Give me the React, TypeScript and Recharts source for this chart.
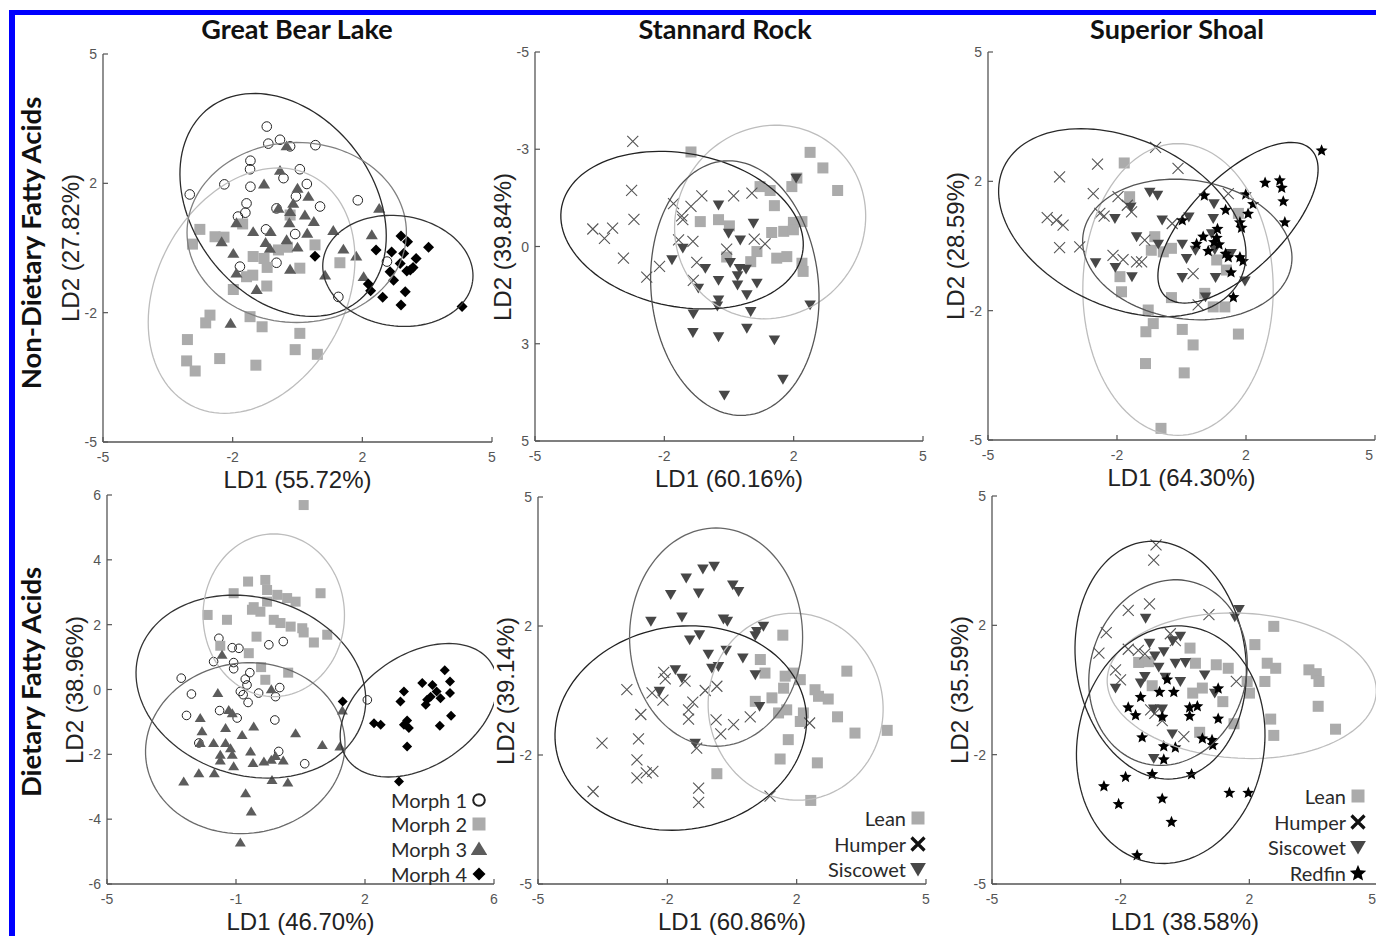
import React from 'react';
import { ScatterChart, Scatter, XAxis, YAxis } from 'recharts';

// ---- tick values (labels are rounded the MATLAB way) ----
const ticksTen = [-5, -5 / 3, 5 / 3, 5];
const ticksSrNdY = [-5, -2.5, 0, 2.5, 5];
const ticksGblDX = [-5, -4 / 3, 7 / 3, 6];
const ticksGblDY = [-6, -4, -2, 0, 2, 4, 6];

// ---- Great Bear Lake, non-dietary ----
const gblNdMorph1 = [[-0.79,3.13],[-0.75,2.69],[-0.45,2.79],[-0.19,2.62],[0.46,2.65],[-1.21,2.25],[-1.22,2.03],[0.06,2.03],[-1.88,1.64],[-2.77,1.38],[-1.21,1.58],[0.24,1.65],[-0.36,1.8],[-0.04,1.33],[-1.31,1.15],[1.55,1.23],[0.58,1.07],[-1.34,0.91],[-1.53,0.81],[-0.54,1.02],[-0.81,0.48],[-0.06,0.36],[-0.54,-0.38],[-1.48,-0.48],[1.05,-1.26],[2.3,-0.35]];
const gblNdMorph2 = [[-2.51,0.48],[-2.7,0.1],[-2.12,0.29],[-1.89,0.28],[-1.41,0.62],[-1.14,-0.22],[-0.86,-0.27],[-0.78,-0.5],[-0.49,-0.05],[-0.26,0.02],[0.06,-0.52],[0.45,0.08],[1.09,-0.38],[-1.31,-0.74],[-1.15,-0.7],[-0.79,-0.98],[-1.65,-1.07],[-2.25,-1.73],[-2.36,-1.93],[-1.22,-1.77],[-0.91,-2.03],[0.06,-2.2],[-0.06,-2.62],[0.51,-2.74],[-2.83,-2.36],[-2.85,-2.91],[-2.0,-2.85],[-2.63,-3.17],[-1.07,-3.02],[-0.19,0.85]];
const gblNdMorph3 = [[-0.28,2.63],[-0.45,2.0],[-0.86,1.65],[0.0,1.54],[0.28,1.33],[-0.11,1.15],[-0.19,0.94],[0.19,0.85],[0.42,0.68],[-0.21,0.65],[-1.57,0.65],[-1.14,0.42],[-0.69,0.42],[-0.28,0.21],[0.25,0.38],[0.92,0.45],[1.91,0.34],[2.1,1.02],[-1.95,0.16],[-0.82,0.14],[-1.65,-0.14],[-0.71,-0.01],[0.0,0.02],[1.18,-0.03],[1.51,-0.21],[-0.19,-0.55],[-1.57,-0.65],[0.71,-0.7],[1.7,-0.74],[-1.05,-1.07],[-1.72,-1.94],[-0.49,1.02]];
const gblNdMorph4 = [[0.45,-0.21],[2.02,-0.05],[2.42,-0.1],[2.66,0.31],[2.83,0.16],[3.37,0.02],[2.73,-0.14],[3.05,-0.27],[2.97,-0.5],[2.81,-0.59],[2.64,-0.4],[2.38,-0.61],[2.47,-0.83],[1.82,-0.93],[1.88,-1.1],[2.19,-1.27],[2.77,-1.13],[2.66,-1.47],[4.23,-1.51],[2.9,-0.57]];
// ellipse: centre x, centre y, semi-axis a, semi-axis b, angle (deg, data space)
const gblNdEllipses = [[-0.37,1.11,3.14,2.33,-53],[-1.18,-1.1,3.34,2.43,62],[-0.02,0.4,2.82,2.32,0],[2.58,-0.59,1.94,1.42,-8]];

// ---- Stannard Rock, non-dietary (y axis reversed) ----
const srNdLean = [[-0.98,-2.43],[2.09,-2.42],[2.42,-2.02],[2.8,-1.44],[1.75,-1.76],[1.62,-1.54],[0.8,-1.54],[1.06,-1.44],[1.17,-1.05],[-0.74,-0.64],[-0.27,-0.69],[0.01,-0.53],[1.66,-0.62],[1.88,-0.64],[1.1,-0.36],[1.41,-0.39],[1.66,-0.43],[0.72,0.13],[-0.06,0.27],[0.56,0.39],[1.23,0.3],[1.49,0.26],[1.88,0.43],[1.91,0.64]];
const srNdHumper = [[-2.48,-2.7],[-2.51,-1.44],[-2.45,-0.7],[-3.51,-0.45],[-3.21,-0.21],[-3.0,-0.47],[-2.72,0.3],[-2.12,0.79],[-1.79,0.51],[-1.43,-1.1],[-1.22,-0.79],[-1.19,-0.69],[-0.98,-1.03],[-0.7,-1.3],[0.12,-1.3],[0.59,-1.37],[-1.3,-0.17],[-0.93,-0.13],[-0.83,0.41],[-0.92,0.87],[0.93,-0.07],[-0.06,0.07],[0.65,-0.19]];
const srNdSiscowet = [[1.73,-1.76],[-0.27,-1.07],[0.63,-0.6],[-0.01,-0.34],[0.29,-0.17],[-1.19,0.04],[-1.47,0.34],[-0.61,0.56],[0.03,0.41],[0.27,0.56],[0.44,0.58],[0.22,0.75],[-0.27,0.87],[0.72,0.94],[-0.79,1.07],[0.22,0.99],[0.46,1.24],[-0.27,1.37],[-0.3,1.53],[-0.92,1.73],[0.56,1.67],[-0.93,2.21],[-0.27,2.32],[0.46,2.1],[1.17,2.4],[2.09,1.5],[1.39,3.41],[-0.12,3.82]];
const srNdEllipses = [[1.06,-0.63,2.55,2.4,-50],[-1.21,-0.42,3.16,1.97,11],[0.15,1.07,3.28,2.16,85]];

// ---- Superior Shoal, non-dietary ----
const ssNdLean = [[-1.48,2.14],[-1.34,1.27],[-0.69,0.24],[-0.78,-0.11],[-0.47,-0.15],[-0.26,-0.06],[-1.59,-0.79],[-1.55,-1.18],[-0.86,-1.65],[-0.73,-2.0],[-0.92,-2.21],[0.02,-2.15],[0.3,-2.55],[-0.93,-3.03],[0.07,-3.27],[-0.53,-4.7],[-0.26,-1.33],[0.6,-1.22],[0.82,-1.57],[1.12,-1.57],[1.47,-2.27],[0.91,-0.36],[1.16,-0.62],[1.47,0.84]];
const ssNdHumper = [[-0.67,2.54],[-2.17,2.11],[-0.09,2.0],[-3.15,1.78],[-2.28,1.35],[-1.64,1.27],[-1.4,1.05],[-2.11,0.84],[-2.0,0.77],[-1.29,0.88],[-3.47,0.73],[-3.23,0.67],[-3.06,0.54],[-3.15,-0.04],[-2.63,-0.02],[-1.77,-0.24],[-1.51,-0.35],[-1.16,-0.41],[-0.95,0.15],[-0.24,0.58],[0.3,-0.71],[0.43,-1.52],[1.21,1.35],[-1.03,-0.41]];
const ssNdSiscowet = [[-0.82,1.39],[-0.62,1.31],[-1.72,0.71],[-1.31,1.01],[-0.5,0.67],[0.19,0.75],[0.84,1.09],[0.82,0.71],[-1.16,0.24],[-0.6,0.05],[0.02,0.05],[0.36,-0.11],[0.13,-0.32],[0.86,-0.09],[1.28,-0.19],[-2.22,-0.43],[-1.71,-0.55],[-1.28,-0.79],[0.02,-0.81],[0.88,-0.81],[1.64,-0.9],[0.62,-1.31],[0.78,0.32]];
const ssNdRedfin = [[3.62,2.47],[2.16,1.64],[2.54,1.7],[2.59,1.51],[2.63,1.16],[2.67,0.62],[1.66,1.34],[1.85,1.09],[1.72,0.84],[1.51,0.62],[1.55,0.48],[1.14,0.94],[0.59,1.31],[0.02,0.67],[0.93,0.45],[0.91,0.22],[0.56,0.25],[0.39,0.06],[0.69,-0.12],[0.97,0.05],[1.14,-0.19],[1.21,-0.28],[1.51,-0.28],[1.59,-0.38],[1.28,-0.67],[1.34,-1.31],[0.84,0.11]];
const ssNdEllipses = [[-0.09,-1.12,3.76,2.46,90],[-1.53,0.6,3.38,2.16,-25],[0.15,-0.09,2.72,1.79,-8],[1.46,0.6,2.67,1.2,45]];

// ---- Great Bear Lake, dietary ----
const gblDMorph1 = [[-1.82,1.58],[-1.44,1.29],[-1.25,1.27],[-0.4,1.38],[0.01,1.48],[-1.97,0.86],[-1.4,0.83],[-1.4,0.64],[-0.94,0.52],[-2.89,0.35],[-2.6,-0.14],[-1.21,-0.06],[-1.02,0.14],[-1.13,-0.16],[-0.99,-0.4],[-0.69,-0.11],[-0.09,0.06],[-0.21,-0.22],[-2.74,-0.8],[-1.8,-0.65],[-1.3,-0.88],[-0.23,-0.94],[-0.12,-1.91],[0.62,-2.29],[2.4,-0.32],[-2.39,-1.65],[-1.07,0.32]];
const gblDMorph2 = [[0.59,5.69],[-0.99,3.33],[-0.5,3.38],[-1.4,2.97],[-2.14,2.3],[-1.59,2.15],[-0.88,2.46],[-0.64,2.4],[-0.45,3.07],[-0.16,2.92],[0.12,2.82],[0.36,2.71],[1.07,2.97],[-0.26,2.15],[-0.07,2.05],[0.22,1.94],[0.55,1.89],[0.59,1.76],[0.88,1.45],[1.26,1.69],[-0.75,1.63],[-0.97,1.12],[-0.62,0.69],[-0.5,0.3],[0.15,0.52],[-1.78,1.35],[-0.83,2.54],[-0.45,2.71]];
const gblDMorph3 = [[-1.73,1.07],[-1.85,-0.11],[-0.33,0.01],[-1.54,-0.63],[-1.44,-0.73],[-2.35,-0.88],[-2.3,-1.29],[-2.35,-1.65],[-1.97,-1.65],[-1.63,-1.19],[-1.16,-1.4],[-0.83,-1.14],[0.36,-1.35],[-1.63,-1.65],[-1.49,-1.81],[-1.78,-2.01],[-1.44,-2.01],[-1.78,-2.19],[-1.4,-2.37],[-0.92,-1.91],[-0.85,-2.27],[-0.54,-2.22],[-0.33,-2.17],[-0.21,-2.05],[0.01,-2.19],[-0.31,-2.79],[0.14,-2.87],[-2.39,-2.58],[-1.95,-2.58],[-2.82,-2.84],[-1.06,-3.2],[-0.9,-3.76],[-1.21,-4.72],[1.12,-1.71],[1.62,-1.76],[1.69,-0.65]];
const gblDMorph4 = [[1.7,-0.37],[2.59,-1.04],[2.78,-1.09],[3.44,-0.06],[3.34,-0.37],[3.96,0.2],[4.25,0.14],[4.06,-0.47],[4.2,-0.22],[4.37,-0.06],[4.6,0.59],[4.75,0.25],[4.75,-0.11],[4.48,-0.27],[4.46,-1.12],[4.78,-0.81],[3.53,-0.96],[3.58,-1.19],[3.44,-1.09],[3.53,-1.76],[3.3,-2.84],[4.1,-0.32]];
const gblDEllipses = [[-0.91,0.09,3.35,2.72,-22.5],[-0.26,2.29,2.51,2.01,90],[-1.07,-1.81,2.85,2.62,15],[3.86,-0.64,2.53,1.68,39]];

// ---- Stannard Rock, dietary ----
const srDLean = [[1.31,1.43],[0.73,0.8],[0.85,0.45],[2.96,0.5],[1.37,0.37],[1.58,0.45],[1.76,0.28],[1.33,0.06],[2.14,0.02],[2.23,-0.15],[2.48,-0.22],[1.03,-0.19],[0.6,-0.28],[1.2,-0.58],[1.41,-0.5],[1.84,-0.58],[1.76,-0.8],[2.72,-0.68],[3.17,-1.1],[4.0,-1.03],[1.45,-1.27],[1.24,-1.77],[2.2,-1.87],[-0.39,-2.15],[2.03,-2.84]];
const srDHumper = [[-1.76,0.47],[-1.72,0.3],[-1.21,0.24],[-2.71,0.02],[-2.06,-0.06],[-1.78,-0.25],[-1.01,-0.3],[-1.12,-0.5],[-2.35,-0.62],[-1.12,-0.74],[-0.41,-0.76],[0.04,-0.88],[0.47,-0.68],[-0.69,0.0],[-0.39,0.11],[-0.29,-1.12],[-3.35,-1.36],[-2.41,-1.25],[-2.45,-1.79],[-2.21,-2.13],[-2.04,-2.09],[-2.45,-2.26],[-0.91,-1.49],[-3.58,-2.61],[-0.86,-2.52],[-0.86,-2.89],[0.98,-2.73],[2.0,-0.84]];
const srDSiscowet = [[-0.46,3.21],[-0.75,3.14],[-1.18,2.91],[-1.58,2.48],[-0.86,2.52],[0.02,2.73],[0.17,2.56],[-2.09,1.79],[-1.29,1.9],[-0.22,1.85],[-0.12,1.79],[-1.09,1.31],[-0.84,1.44],[-0.61,0.94],[-0.15,1.04],[0.28,0.84],[0.64,1.53],[0.81,1.66],[0.6,1.42],[-1.46,0.54],[-1.29,0.32],[-0.52,0.58],[-0.35,0.62],[0.6,0.41],[-1.87,-0.02],[0.71,-0.41],[-0.95,-1.36]];
const srDEllipses = [[1.64,-0.42,2.42,2.25,100],[-1.32,-0.97,3.26,2.62,10],[-0.41,1.38,2.82,2.23,90]];

// ---- Superior Shoal, dietary ----
const ssDLean = [[2.3,1.64],[1.81,1.17],[0.13,1.08],[-1.2,0.71],[-0.94,0.73],[0.27,0.69],[0.81,0.65],[1.12,0.56],[2.13,0.69],[2.35,0.56],[3.21,0.52],[3.4,0.42],[3.47,0.22],[1.61,0.22],[2.07,0.22],[1.67,-0.08],[0.2,-0.08],[0.45,0.05],[0.98,-0.3],[-0.85,0.11],[3.45,-0.42],[2.22,-0.75],[3.9,-1.01],[1.27,-0.87],[2.3,-1.17],[0.38,-1.09]];
const ssDHumper = [[-0.75,3.74],[-0.81,3.35],[-0.92,2.22],[-1.47,2.05],[0.62,1.94],[-2.04,1.48],[-2.23,0.95],[-1.47,1.05],[-1.21,1.02],[-1.04,0.93],[-1.8,0.52],[-1.67,0.26],[-0.38,1.45],[-0.25,1.27],[1.33,0.22],[-0.89,-0.51],[-0.78,-0.6],[-0.59,-0.79],[-0.03,-1.2]];
const ssDSiscowet = [[-1.02,1.85],[1.4,2.08],[1.29,1.89],[-0.12,1.39],[-0.32,1.27],[-0.92,1.21],[-0.55,0.99],[-0.78,0.88],[-0.68,0.59],[-0.25,0.69],[0.01,0.71],[-1.04,0.35],[-1.8,0.05],[-1.15,0.18],[-0.12,0.22],[0.51,0.39],[0.77,-0.08],[-0.81,-0.49],[-0.59,-0.49],[-0.33,-1.13],[-0.81,-1.76],[-0.51,0.33]];
const ssDRedfin = [[-0.46,0.28],[-1.15,-0.17],[-0.66,-0.04],[-0.29,-0.04],[0.86,0.05],[-1.47,-0.44],[-1.28,-0.64],[-0.59,-0.68],[0.12,-0.44],[0.32,-0.41],[0.12,-0.66],[0.86,-0.73],[-1.11,-1.21],[-0.55,-1.44],[-0.25,-1.47],[0.45,-1.24],[0.7,-1.28],[0.72,-1.41],[-0.55,-1.78],[-0.85,-2.16],[0.17,-2.16],[-1.54,-2.23],[-2.1,-2.47],[-1.72,-2.93],[-0.59,-2.79],[-0.35,-3.39],[-1.24,-4.25],[1.15,-2.64],[1.64,-2.64]];
const ssDEllipses = [[1.47,0.11,3.49,1.87,-3],[-0.63,0.77,3.08,2.2,98],[-0.44,0.45,2.42,2.02,74],[-0.37,-1.41,3.08,2.42,80]];

const AXIS = '#555';
const SANS = '"Liberation Sans", Arial, sans-serif';
const CALI = 'Lato, "Open Sans", sans-serif';

type Marker = 'circle' | 'square' | 'tri' | 'triDown' | 'diamond' | 'cross' | 'star';

const pts = (rows: number[][]) => rows.map(([x, y]) => ({ x, y }));

// outline of a group ellipse from its centre / semi-axes / angle
const ellipseOutline = ([cx, cy, a, b, deg]: number[]) => {
  const t = (deg * Math.PI) / 180;
  const out = [];
  for (let i = 0; i <= 120; i++) {
    const s = (i / 120) * 2 * Math.PI;
    const u = a * Math.cos(s);
    const v = b * Math.sin(s);
    out.push({ x: cx + u * Math.cos(t) - v * Math.sin(t), y: cy + u * Math.sin(t) + v * Math.cos(t) });
  }
  return out;
};

const matlabRound = (v: number) => String(Math.sign(v) * Math.round(Math.abs(v)) || 0);

function starPath(cx: number, cy: number, R: number) {
  const r = R * 0.45;
  let d = '';
  for (let i = 0; i < 10; i++) {
    const rad = i % 2 === 0 ? R : r;
    const ang = -Math.PI / 2 + (i * Math.PI) / 5;
    d += (i === 0 ? 'M' : 'L') + (cx + rad * Math.cos(ang)).toFixed(2) + ',' + (cy + rad * Math.sin(ang)).toFixed(2);
  }
  return d + 'Z';
}

function drawMarker(kind: Marker, cx: number, cy: number, s: number, legend = false) {
  const h = s / 2;
  switch (kind) {
    case 'circle':
      return <circle cx={cx} cy={cy} r={h - 0.7} fill="none" stroke="#222" strokeWidth={legend ? 2 : 1} />;
    case 'square':
      return <rect x={cx - h} y={cy - h} width={s} height={s} fill="#ababab" />;
    case 'tri':
      return <path d={`M${cx},${cy - h}L${cx + h * 1.1},${cy + h * 0.8}L${cx - h * 1.1},${cy + h * 0.8}Z`} fill="#5c5c5c" />;
    case 'triDown':
      return <path d={`M${cx - h * 1.05},${cy - h * 0.8}L${cx + h * 1.05},${cy - h * 0.8}L${cx},${cy + h}Z`} fill="#474747" />;
    case 'diamond':
      return <path d={`M${cx},${cy - h}L${cx + h},${cy}L${cx},${cy + h}L${cx - h},${cy}Z`} fill="#000" />;
    case 'cross':
      return (
        <path
          d={`M${cx - h},${cy - h}L${cx + h},${cy + h}M${cx - h},${cy + h}L${cx + h},${cy - h}`}
          stroke={legend ? '#111' : '#555'}
          strokeWidth={legend ? 3.2 : 1.1}
          fill="none"
        />
      );
    case 'star':
      return <path d={starPath(cx, cy + 0.5, h * 1.15)} fill="#000" />;
  }
  return <g />;
}

const shapeFor = (kind: Marker, s: number) => (props: any) => drawMarker(kind, props.cx, props.cy, s);
const noDot = () => <g />;

function XTick(props: any) {
  const { x, y, payload, lastAtEdge, index, visibleTicksCount } = props;
  const atEdge = lastAtEdge && index === visibleTicksCount - 1;
  return (
    <g>
      <line x1={x} y1={y} x2={x} y2={y - 5} stroke={AXIS} strokeWidth={1.2} />
      <text x={atEdge ? x - 2 : x} y={y + 20} textAnchor={atEdge ? 'end' : 'middle'} fontSize={14} fill="#555" fontFamily={SANS}>
        {matlabRound(payload.value)}
      </text>
    </g>
  );
}

function YTick(props: any) {
  const { x, y, payload } = props;
  return (
    <g>
      <line x1={x} y1={y} x2={x + 5} y2={y} stroke={AXIS} strokeWidth={1.2} />
      <text x={x - 6} y={y + 5} textAnchor="end" fontSize={14} fill="#555" fontFamily={SANS}>
        {matlabRound(payload.value)}
      </text>
    </g>
  );
}

interface Group {
  name: string;
  data: { x: number; y: number }[];
  marker: Marker;
  ellipse: number[];
  ring: string;
}

interface PanelDef {
  id: string;
  plot: [number, number, number, number];
  xDomain: [number, number];
  yDomain: [number, number];
  xTicks: number[];
  yTicks: number[];
  reversed?: boolean;
  xLabel: string;
  yLabel: string;
  size: number;
  groups: Group[];
  legend?: { right: number; rows: number[] };
}

const panels: PanelDef[] = [
  {
    id: 'gbl-nd', plot: [103, 54, 389, 388], xDomain: [-5, 5], yDomain: [-5, 5], xTicks: ticksTen, yTicks: ticksTen,
    xLabel: 'LD1 (55.72%)', yLabel: 'LD2 (27.82%)', size: 11,
    groups: [
      { name: 'Morph 1', data: pts(gblNdMorph1), marker: 'circle', ellipse: gblNdEllipses[0], ring: '#2a2a2a' },
      { name: 'Morph 2', data: pts(gblNdMorph2), marker: 'square', ellipse: gblNdEllipses[1], ring: '#bdbdbd' },
      { name: 'Morph 3', data: pts(gblNdMorph3), marker: 'tri', ellipse: gblNdEllipses[2], ring: '#808080' },
      { name: 'Morph 4', data: pts(gblNdMorph4), marker: 'diamond', ellipse: gblNdEllipses[3], ring: '#333' },
    ],
  },
  {
    id: 'sr-nd', plot: [535, 52, 388, 389], xDomain: [-5, 5], yDomain: [-5, 5], xTicks: ticksTen, yTicks: ticksSrNdY, reversed: true,
    xLabel: 'LD1 (60.16%)', yLabel: 'LD2 (39.84%)', size: 11,
    groups: [
      { name: 'Lean', data: pts(srNdLean), marker: 'square', ellipse: srNdEllipses[0], ring: '#bdbdbd' },
      { name: 'Humper', data: pts(srNdHumper), marker: 'cross', ellipse: srNdEllipses[1], ring: '#222' },
      { name: 'Siscowet', data: pts(srNdSiscowet), marker: 'triDown', ellipse: srNdEllipses[2], ring: '#555' },
    ],
  },
  {
    id: 'ss-nd', plot: [988, 52, 387, 388], xDomain: [-5, 5], yDomain: [-5, 5], xTicks: ticksTen, yTicks: ticksTen,
    xLabel: 'LD1 (64.30%)', yLabel: 'LD2 (28.59%)', size: 11,
    groups: [
      { name: 'Lean', data: pts(ssNdLean), marker: 'square', ellipse: ssNdEllipses[0], ring: '#bdbdbd' },
      { name: 'Humper', data: pts(ssNdHumper), marker: 'cross', ellipse: ssNdEllipses[1], ring: '#2a2a2a' },
      { name: 'Siscowet', data: pts(ssNdSiscowet), marker: 'triDown', ellipse: ssNdEllipses[2], ring: '#555' },
      { name: 'Redfin', data: pts(ssNdRedfin), marker: 'star', ellipse: ssNdEllipses[3], ring: '#222' },
    ],
  },
  {
    id: 'gbl-d', plot: [107, 495, 387, 389], xDomain: [-5, 6], yDomain: [-6, 6], xTicks: ticksGblDX, yTicks: ticksGblDY,
    xLabel: 'LD1 (46.70%)', yLabel: 'LD2 (38.96%)', size: 10,
    groups: [
      { name: 'Morph 1', data: pts(gblDMorph1), marker: 'circle', ellipse: gblDEllipses[0], ring: '#333' },
      { name: 'Morph 2', data: pts(gblDMorph2), marker: 'square', ellipse: gblDEllipses[1], ring: '#bdbdbd' },
      { name: 'Morph 3', data: pts(gblDMorph3), marker: 'tri', ellipse: gblDEllipses[2], ring: '#6a6a6a' },
      { name: 'Morph 4', data: pts(gblDMorph4), marker: 'diamond', ellipse: gblDEllipses[3], ring: '#333' },
    ],
    legend: { right: 479, rows: [800, 824, 849, 874] },
  },
  {
    id: 'sr-d', plot: [538, 497, 388, 387], xDomain: [-5, 5], yDomain: [-5, 5], xTicks: ticksTen, yTicks: ticksTen,
    xLabel: 'LD1 (60.86%)', yLabel: 'LD2 (39.14%)', size: 11,
    groups: [
      { name: 'Lean', data: pts(srDLean), marker: 'square', ellipse: srDEllipses[0], ring: '#bdbdbd' },
      { name: 'Humper', data: pts(srDHumper), marker: 'cross', ellipse: srDEllipses[1], ring: '#222' },
      { name: 'Siscowet', data: pts(srDSiscowet), marker: 'triDown', ellipse: srDEllipses[2], ring: '#666' },
    ],
    legend: { right: 918, rows: [818, 844, 869] },
  },
  {
    id: 'ss-d', plot: [992, 496, 386, 388], xDomain: [-5, 5], yDomain: [-5, 5], xTicks: ticksTen, yTicks: ticksTen,
    xLabel: 'LD1 (38.58%)', yLabel: 'LD2 (35.59%)', size: 11,
    groups: [
      { name: 'Lean', data: pts(ssDLean), marker: 'square', ellipse: ssDEllipses[0], ring: '#bdbdbd' },
      { name: 'Humper', data: pts(ssDHumper), marker: 'cross', ellipse: ssDEllipses[1], ring: '#2a2a2a' },
      { name: 'Siscowet', data: pts(ssDSiscowet), marker: 'triDown', ellipse: ssDEllipses[2], ring: '#555' },
      { name: 'Redfin', data: pts(ssDRedfin), marker: 'star', ellipse: ssDEllipses[3], ring: '#2a2a2a' },
    ],
    legend: { right: 1358, rows: [796, 822, 847, 873] },
  },
];

function Label({ x, y, text, size, font, weight = 400, rotate = false, color = '#222' }: any) {
  return (
    <div
      style={{
        position: 'absolute', left: x, top: y, transform: `translate(-50%, -50%)${rotate ? ' rotate(-90deg)' : ''}`,
        whiteSpace: 'nowrap', fontSize: size, fontFamily: font, fontWeight: weight, color, lineHeight: 1,
      }}
    >
      {text}
    </div>
  );
}

function Panel({ p }: { p: PanelDef }) {
  const [L, T, W, H] = p.plot;
  const lastAtEdge = L + W > 1368;
  return (
    <>
      <div style={{ position: 'absolute', left: L - 44, top: T - 8 }}>
        <ScatterChart width={W + 52} height={H + 44} margin={{ top: 8, right: 8, bottom: 0, left: 0 }}>
          <XAxis
            type="number" dataKey="x" domain={p.xDomain} ticks={p.xTicks} interval={0} allowDataOverflow
            tick={<XTick lastAtEdge={lastAtEdge} />} tickLine={false} tickSize={0} tickMargin={0} height={36}
            axisLine={{ stroke: AXIS, strokeWidth: 1.3 }}
          />
          <YAxis
            type="number" dataKey="y" domain={p.yDomain} ticks={p.yTicks} interval={0} allowDataOverflow reversed={p.reversed}
            tick={<YTick />} tickLine={false} tickSize={0} tickMargin={0} width={44}
            axisLine={{ stroke: AXIS, strokeWidth: 1.3 }}
          />
          {p.groups.map((g) => (
            <Scatter key={g.name} name={g.name} data={g.data} shape={shapeFor(g.marker, p.size)} isAnimationActive={false} />
          ))}
          {p.groups.map((g) => (
            <Scatter
              key={g.name + '-ring'} data={ellipseOutline(g.ellipse)} line={{ stroke: g.ring, strokeWidth: 1.3 }}
              lineType="joint" shape={noDot} isAnimationActive={false}
            />
          ))}
        </ScatterChart>
      </div>
      <Label x={L + W / 2} y={T + H + 38} text={p.xLabel} size={24} font={SANS} />
      <Label x={L - 32} y={T + H / 2} text={p.yLabel} size={24} font={SANS} rotate />
      {p.legend &&
        p.groups.map((g, i) => (
          <div
            key={g.name + '-lg'}
            style={{
              position: 'absolute', left: p.legend!.right - 200, width: 210, top: p.legend!.rows[i] - 12, height: 24,
              display: 'flex', justifyContent: 'flex-end', alignItems: 'center',
            }}
          >
            <span style={{ fontFamily: CALI, fontSize: 20, color: '#2a2a2a', marginRight: 4 }}>{g.name}</span>
            <svg width={16} height={16} style={{ marginRight: 2 }}>
              {drawMarker(g.marker, 8, 8, g.marker === 'star' || g.marker === 'tri' || g.marker === 'triDown' ? 15 : 13, true)}
            </svg>
          </div>
        ))}
    </>
  );
}

export default function App() {
  return (
    <div style={{ position: 'absolute', left: 0, top: 0, width: 1376, height: 936, overflow: 'hidden', background: '#fff' }}>
      <div
        style={{
          position: 'absolute', left: 9, top: 10, width: 1400, height: 1000,
          borderLeft: '6px solid #0000ff', borderTop: '5px solid #0000ff',
        }}
      />
      <Label x={297} y={28} text="Great Bear Lake" size={27} font={CALI} weight={700} color="#111" />
      <Label x={725} y={28} text="Stannard Rock" size={27} font={CALI} weight={700} color="#111" />
      <Label x={1177} y={28} text="Superior Shoal" size={27} font={CALI} weight={700} color="#111" />
      <Label x={31} y={243} text="Non-Dietary Fatty Acids" size={27.5} font={CALI} weight={700} color="#111" rotate />
      <Label x={31} y={682} text="Dietary Fatty Acids" size={27.5} font={CALI} weight={700} color="#111" rotate />
      {panels.map((p) => (
        <Panel key={p.id} p={p} />
      ))}
    </div>
  );
}
